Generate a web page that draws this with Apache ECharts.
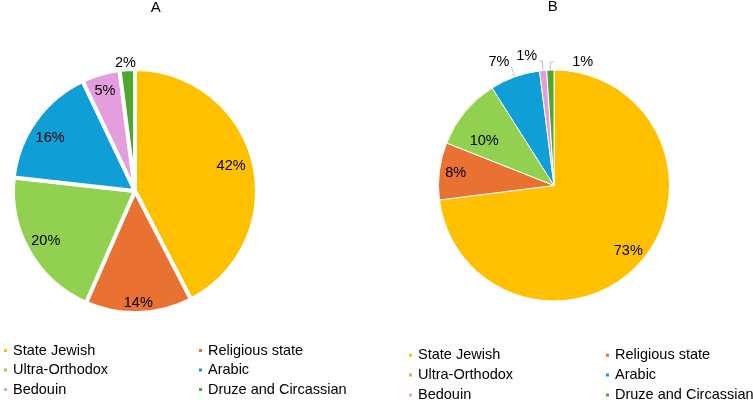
<!DOCTYPE html>
<html><head><meta charset="utf-8">
<script src="https://cdn.jsdelivr.net/npm/echarts@6/dist/echarts.min.js"></script>
<style>html,body{margin:0;padding:0;background:#fff}#c{width:753px;height:400px}</style>
</head><body><div id="c"></div>
<script>
// ---- data ----
const categories = ['State Jewish', 'Religious state', 'Ultra-Orthodox', 'Arabic', 'Bedouin', 'Druze and Circassian'];
const valuesA = [42, 14, 20, 16, 5, 2];
const valuesB = [73, 8, 10, 7, 1, 1];
const chartTitles = ['A', 'B'];
const colors = ['#FFC000', '#E97132', '#92D050', '#0F9ED5', '#E59EDD', '#4EA72E'];

// ---- styles ----
const FONT = '"Liberation Sans", Arial, sans-serif';
const txt = { color: '#000', fontFamily: FONT, fontSize: 14.5 };
const lineStyle = { color: '#bfbfbf', width: 1 };

// outside label settings per slice index (style only)
const outsideA = {
  5: { label: { distanceToLabelLine: -9 }, labelLine: { show: false, length: 6.5, length2: 0 } }
};
const outsideB = {
  3: { label: { distanceToLabelLine: 2, formatter: '{c}%\n ', lineHeight: 11.4 }, labelLine: { show: true, length: 10, length2: 0 } },
  4: { label: { distanceToLabelLine: 2, formatter: '{c}%\n ', lineHeight: 10 }, labelLine: { show: true, length: 9.5, length2: 3 } },
  5: { label: { distanceToLabelLine: -39 }, labelLine: { show: true, length: 8, length2: -4 } }
};
const insideOffsetA = { 0: { dx: -4, dy: -1 }, 1: { dy: 9 }, 2: { dx: 0, dy: -2 }, 3: { dx: -1, dy: 7 }, 4: { dx: -1, dy: -1 } };
const insideOffsetB = { 2: { dx: 6.5, dy: 19 } };

function mainData(values, outside) {
  return categories.map((name, i) => {
    const d = { name, value: values[i], itemStyle: { color: colors[i] } };
    const o = outside[i];
    if (o) {
      d.label = Object.assign({ show: true, position: 'outside', formatter: '{c}%' }, txt, o.label);
      d.labelLine = Object.assign({ smooth: false, minTurnAngle: 0, lineStyle }, o.labelLine);
    }
    return d;
  });
}
function labelData(values, outside) {
  return categories.map((name, i) => ({ name, value: values[i], label: { show: !outside[i] } }));
}
function mainSeries(values, outside, center, radius, border) {
  return {
    type: 'pie', center, radius: [0, radius], startAngle: 90, clockwise: true,
    avoidLabelOverlap: false, silent: true, emphasis: { disabled: true },
    itemStyle: { borderColor: '#fff', borderWidth: border },
    label: { show: false }, labelLine: { show: false },
    data: mainData(values, outside)
  };
}
function labelSeries(values, outside, center, r0, r1, offsets) {
  return {
    type: 'pie', center, radius: [r0, r1], startAngle: 90, clockwise: true,
    avoidLabelOverlap: false, silent: true, emphasis: { disabled: true }, legendHoverLink: false,
    itemStyle: { color: 'rgba(0,0,0,0)', borderWidth: 0 },
    label: Object.assign({ show: true, position: 'inside', formatter: '{c}%' }, txt),
    labelLine: { show: false },
    labelLayout: p => offsets[p.dataIndex] || {},
    data: labelData(values, outside)
  };
}
function legend(idx, left, top, gap) {
  return {
    orient: 'vertical', left, top, height: 80, padding: 0, itemWidth: 5, itemHeight: 5, itemGap: gap,
    icon: 'rect', selectedMode: false, data: idx.map(i => categories[i]),
    textStyle: Object.assign({ lineHeight: 16 }, txt)
  };
}
const titleStyle = { fontSize: 15, fontWeight: 'normal', color: '#000', fontFamily: FONT };

const chart = echarts.init(document.getElementById('c'), null, { renderer: 'canvas' });
chart.setOption({
  backgroundColor: '#fff',
  animation: false,
  title: [
    { text: chartTitles[0], left: 155.8, top: 0, padding: 0, textAlign: 'center', textStyle: titleStyle },
    { text: chartTitles[1], left: 552.7, top: -1, padding: 0, textAlign: 'center', textStyle: titleStyle }
  ],
  legend: [
    legend([0, 2, 4], 2, 342.5, 3.5),
    legend([1, 3, 5], 197, 342.5, 3.5),
    legend([0, 2, 4], 407, 347.3, 3.8),
    legend([1, 3, 5], 604, 347.3, 3.8)
  ],
  series: [
    mainSeries(valuesA, outsideA, [135, 191], 122, 4),
    mainSeries(valuesB, outsideB, [554, 185.5], 115.5, 1),
    labelSeries(valuesA, outsideA, [135, 191], 78, 122, insideOffsetA),
    labelSeries(valuesB, outsideB, [554, 185.5], 76.5, 115.5, insideOffsetB)
  ]
});
</script></body></html>
